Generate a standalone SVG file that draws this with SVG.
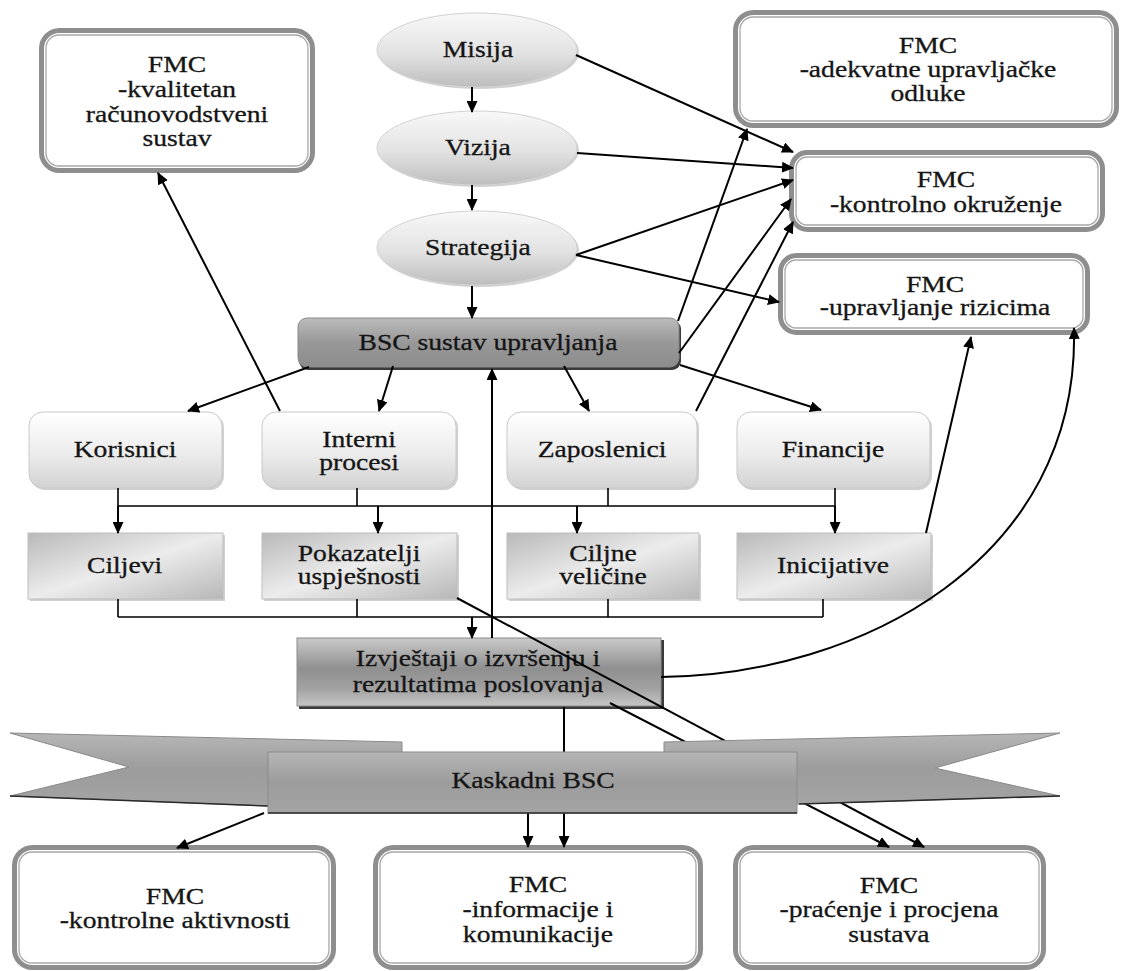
<svg xmlns="http://www.w3.org/2000/svg" width="1123" height="971" viewBox="0 0 1123 971">
<style>
text{font-family:"Liberation Serif","Times New Roman",serif;font-size:23px;fill:#151515;stroke:#151515;stroke-width:0.3;text-anchor:middle}
.fo{fill:none;stroke:#8e8e8e;stroke-width:5}
.fi{fill:#fff;stroke:#a8a8a8;stroke-width:1.3}
.ell{fill:url(#gEll);stroke:#d2d2d2;stroke-width:1}
.per{fill:url(#gPer);stroke:#c9c9c9;stroke-width:1}
.r2{fill:url(#gR2);stroke:#bdbdbd;stroke-width:1}
.sh{fill:#a9a9a9;opacity:.55}
.dsh{fill:#3a3a3a}
.ar{fill:none;stroke:#000;stroke-width:2;marker-end:url(#ah)}
.bus{fill:none;stroke:#000;stroke-width:1.6}
.rib{fill:url(#gKas);stroke:#8a8a8a;stroke-width:1}
.edge{fill:none;stroke:#2a2a2a;stroke-width:1.6}
</style>
<defs>
<marker id="ah" markerUnits="userSpaceOnUse" markerWidth="12" markerHeight="11" refX="11" refY="5.5" orient="auto">
<path d="M0,0 L12,5.5 L0,11 z" fill="#000"/>
</marker>
<linearGradient id="gEll" x1="0" y1="0" x2="0" y2="1">
<stop offset="0" stop-color="#f8f8f8"/><stop offset="0.55" stop-color="#e2e2e2"/><stop offset="1" stop-color="#bdbdbd"/>
</linearGradient>
<linearGradient id="gPer" x1="0" y1="0" x2="0" y2="1">
<stop offset="0" stop-color="#ffffff"/><stop offset="0.55" stop-color="#ececec"/><stop offset="1" stop-color="#d2d2d2"/>
</linearGradient>
<linearGradient id="gR2" x1="0" y1="0" x2="1" y2="1">
<stop offset="0" stop-color="#b9b9b9"/><stop offset="0.5" stop-color="#ececec"/><stop offset="1" stop-color="#b7b7b7"/>
</linearGradient>
<linearGradient id="gBSC" x1="0" y1="0" x2="0" y2="1">
<stop offset="0" stop-color="#bcbcbc"/><stop offset="0.5" stop-color="#989898"/><stop offset="1" stop-color="#8c8c8c"/>
</linearGradient>
<linearGradient id="gIzv" x1="0" y1="0" x2="0" y2="1">
<stop offset="0" stop-color="#cacaca"/><stop offset="0.45" stop-color="#8f8f8f"/><stop offset="0.75" stop-color="#a2a2a2"/><stop offset="1" stop-color="#c6c6c6"/>
</linearGradient>
<linearGradient id="gKas" x1="0" y1="0" x2="0" y2="1">
<stop offset="0" stop-color="#b6b6b6"/><stop offset="0.5" stop-color="#9c9c9c"/><stop offset="1" stop-color="#a4a4a4"/>
</linearGradient>
</defs>
<rect width="1123" height="971" fill="#fff"/>

<g id="fmc-racunovodstvo">
<rect class="fo" x="41.5" y="30.5" width="271" height="140" rx="18"/>
<rect class="fi" x="46" y="35" width="262" height="131" rx="13"/>
<g transform="scale(1.2 1)">
<text x="147.5" y="72">FMC</text><text x="147.5" y="97">-kvalitetan</text><text x="147.5" y="122">računovodstveni</text><text x="147.5" y="146">sustav</text>
</g>
</g>

<g id="misija">
<ellipse cx="479" cy="52" rx="100" ry="37" class="sh"/>
<ellipse class="ell" cx="477" cy="50" rx="100" ry="37"/>
<text transform="scale(1.2 1)" x="398.3" y="57">Misija</text>
</g>
<g id="vizija">
<ellipse cx="479" cy="150" rx="100" ry="37" class="sh"/>
<ellipse class="ell" cx="477" cy="148" rx="100" ry="37"/>
<text transform="scale(1.2 1)" x="398.3" y="155">Vizija</text>
</g>
<g id="strategija">
<ellipse cx="479" cy="250" rx="100" ry="37" class="sh"/>
<ellipse class="ell" cx="477" cy="248" rx="100" ry="37"/>
<text transform="scale(1.2 1)" x="398.3" y="255">Strategija</text>
</g>

<g id="fmc-odluke">
<rect class="fo" x="735.5" y="12.5" width="381" height="113" rx="18"/>
<rect class="fi" x="740" y="17" width="372" height="104" rx="13"/>
<g transform="scale(1.2 1)">
<text x="773.3" y="53">FMC</text><text x="773.3" y="77">-adekvatne upravljačke</text><text x="773.3" y="101">odluke</text>
</g>
</g>
<g id="fmc-okruzenje">
<rect class="fo" x="791.5" y="152.5" width="311" height="77" rx="16"/>
<rect class="fi" x="796" y="157" width="302" height="68" rx="11"/>
<g transform="scale(1.2 1)">
<text x="788.3" y="187">FMC</text><text x="788.3" y="212">-kontrolno okruženje</text>
</g>
</g>
<g id="fmc-rizici">
<rect class="fo" x="780.5" y="255.5" width="307" height="77" rx="16"/>
<rect class="fi" x="785" y="260" width="298" height="68" rx="11"/>
<g transform="scale(1.2 1)">
<text x="779.2" y="292">FMC</text><text x="779.2" y="315">-upravljanje rizicima</text>
</g>
</g>

<g id="bsc">
<rect class="dsh" x="299" y="320" width="382" height="50" rx="9"/>
<rect x="298" y="318" width="381" height="49" rx="9" fill="url(#gBSC)" stroke="#8a8a8a" stroke-width="1"/>
<text transform="scale(1.2 1)" x="406.7" y="350">BSC sustav upravljanja</text>
</g>

<g id="korisnici">
<rect class="sh" x="31" y="414" width="193" height="76" rx="14"/>
<rect class="per" x="29" y="412" width="193" height="76" rx="14"/>
<text transform="scale(1.2 1)" x="104.2" y="457">Korisnici</text>
</g>
<g id="interni-procesi">
<rect class="sh" x="264" y="414" width="194" height="76" rx="14"/>
<rect class="per" x="262" y="412" width="194" height="76" rx="14"/>
<g transform="scale(1.2 1)"><text x="299.2" y="447">Interni</text><text x="299.2" y="470">procesi</text></g>
</g>
<g id="zaposlenici">
<rect class="sh" x="509" y="414" width="190" height="76" rx="14"/>
<rect class="per" x="507" y="412" width="190" height="76" rx="14"/>
<text transform="scale(1.2 1)" x="501.7" y="457">Zaposlenici</text>
</g>
<g id="financije">
<rect class="sh" x="739" y="414" width="193" height="76" rx="14"/>
<rect class="per" x="737" y="412" width="193" height="76" rx="14"/>
<text transform="scale(1.2 1)" x="694.2" y="457">Financije</text>
</g>

<g id="ciljevi">
<rect class="sh" x="30" y="535" width="195" height="66"/>
<rect class="r2" x="28" y="533" width="195" height="66"/>
<text transform="scale(1.2 1)" x="103.8" y="573">Ciljevi</text>
</g>
<g id="pokazatelji">
<rect class="sh" x="264" y="535" width="195" height="66"/>
<rect class="r2" x="262" y="533" width="195" height="66"/>
<g transform="scale(1.2 1)"><text x="299.2" y="561">Pokazatelji</text><text x="299.2" y="584">uspješnosti</text></g>
</g>
<g id="ciljne-velicine">
<rect class="sh" x="509" y="535" width="192" height="66"/>
<rect class="r2" x="507" y="533" width="192" height="66"/>
<g transform="scale(1.2 1)"><text x="502.5" y="561">Ciljne</text><text x="502.5" y="584">veličine</text></g>
</g>
<g id="inicijative">
<rect class="sh" x="739" y="535" width="194" height="66"/>
<rect class="r2" x="737" y="533" width="194" height="66"/>
<text transform="scale(1.2 1)" x="694.2" y="573">Inicijative</text>
</g>

<g id="izvjestaji">
<rect class="dsh" x="299" y="640" width="365" height="69"/>
<rect x="297" y="638" width="364" height="68" fill="url(#gIzv)" stroke="#8c8c8c" stroke-width="1"/>
<g transform="scale(1.2 1)"><text x="398.3" y="666">Izvještaji o izvršenju i</text><text x="398.3" y="692">rezultatima poslovanja</text></g>
</g>

<g id="fmc-aktivnosti">
<rect class="fo" x="14.5" y="847.5" width="319" height="120" rx="18"/>
<rect class="fi" x="19" y="852" width="310" height="111" rx="13"/>
<g transform="scale(1.2 1)"><text x="145.8" y="904">FMC</text><text x="145.8" y="928">-kontrolne aktivnosti</text></g>
</g>
<g id="fmc-informacije">
<rect class="fo" x="375.5" y="847.5" width="325" height="120" rx="18"/>
<rect class="fi" x="380" y="852" width="316" height="111" rx="13"/>
<g transform="scale(1.2 1)"><text x="448.3" y="892">FMC</text><text x="448.3" y="917">-informacije i</text><text x="448.3" y="942">komunikacije</text></g>
</g>
<g id="fmc-pracenje">
<rect class="fo" x="735.5" y="847.5" width="308" height="120" rx="18"/>
<rect class="fi" x="740" y="852" width="299" height="111" rx="13"/>
<g transform="scale(1.2 1)"><text x="740.8" y="893">FMC</text><text x="740.8" y="917">-praćenje i procjena</text><text x="740.8" y="942">sustava</text></g>
</g>

<g id="connectors">
<path class="ar" d="M472,87 V112"/>
<path class="ar" d="M472,185 V210"/>
<path class="ar" d="M472,286 V318"/>
<path class="ar" d="M576,55 L793,152"/>
<path class="ar" d="M577,153 L793,168"/>
<path class="ar" d="M576,255 L793,180"/>
<path class="ar" d="M576,255 L779,302"/>
<path class="ar" d="M678,321 L747,129"/>
<path class="ar" d="M679,353 L791,199"/>
<path class="ar" d="M696,411 L793,222"/>
<path class="ar" d="M680,365 L821,410"/>
<path class="ar" d="M926,533 L971,337"/>
<path class="ar" d="M661,677 C860,675 1080,560 1074,328" stroke-width="1.6"/>
<path class="ar" d="M309,367 L188,411"/>
<path class="ar" d="M393,366 L379,411"/>
<path class="ar" d="M564,366 L589,411"/>
<path class="ar" d="M280,411 L158,173"/>
<path class="ar" d="M492,638 V369"/>
<path class="bus" d="M118,488 V506 M357,488 V506 M608,488 V506 M835,488 V506 M118,506 H835"/>
<path class="ar" d="M118,506 V533"/>
<path class="ar" d="M378,506 V533"/>
<path class="ar" d="M577,506 V533"/>
<path class="ar" d="M835,506 V533"/>
<path class="bus" d="M118,599 V617 M357,599 V617 M608,599 V617 M823,599 V617 M118,617 H823"/>
<path class="ar" d="M472,617 V638"/>
<path class="ar" d="M457,598 L924,847"/>
<path class="ar" d="M610,703 L889,847"/>
<path class="ar" d="M564,707 V847"/>
<path class="ar" d="M528,813 V847"/>
<path class="ar" d="M264,813 L177,848"/>
</g>

<g id="kaskadni-bsc">
<polygon class="rib" points="10,733 402,742 402,800 268,806 10,796 129,767"/>
<polygon class="rib" points="1060,733 664,742 664,800 799,804 1060,796 935,768"/>
<path class="edge" d="M10,796 L268,806 M799,804 L1060,796"/>
<rect x="268" y="752" width="529" height="61" fill="url(#gKas)" stroke="#8a8a8a" stroke-width="1"/>
<path class="edge" d="M268,813 H797"/>
<text transform="scale(1.2 1)" x="444.2" y="788">Kaskadni BSC</text>
</g>
</svg>
